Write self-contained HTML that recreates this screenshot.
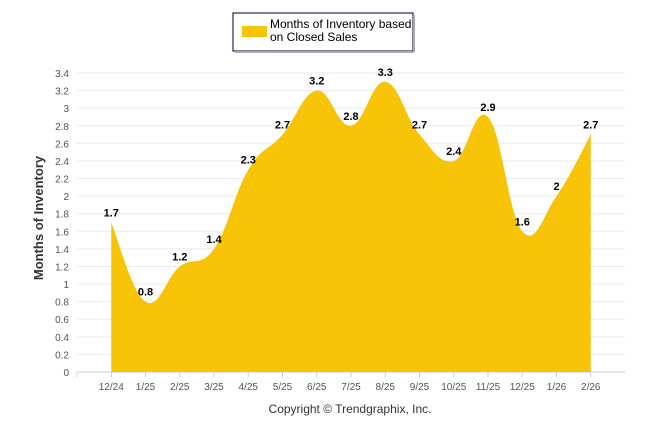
<!DOCTYPE html>
<html><head><meta charset="utf-8"><style>
body{margin:0;background:#fff;font-family:"Liberation Sans",sans-serif}
</style></head><body>
<svg width="646" height="434" id="c" xmlns="http://www.w3.org/2000/svg">
<rect x="233" y="13" width="180" height="38" fill="#fff" stroke="#1f2d4d" stroke-width="1.2"/>
<line x1="235" y1="52" x2="414" y2="52" stroke="#aaa" stroke-width="2"/>
<line x1="414" y1="15" x2="414" y2="52" stroke="#aaa" stroke-width="2"/>
<rect x="242" y="26" width="25" height="11" fill="#F7C408"/>
<text x="270" y="28" font-size="12" fill="#000">Months of Inventory based</text>
<text x="270" y="41" font-size="12" fill="#000">on Closed Sales</text>
<g id="grid"></g>
<path id="area" fill="#F7C408"/>
<g id="labels"></g>
<text transform="translate(43,218) rotate(-90)" text-anchor="middle" font-size="13" font-weight="bold" fill="#333">Months of Inventory</text>
<text x="350" y="413" text-anchor="middle" font-size="12" fill="#333">Copyright © Trendgraphix, Inc.</text>
</svg>
<script>
const categories=["12/24","1/25","2/25","3/25","4/25","5/25","6/25","7/25","8/25","9/25","10/25","11/25","12/25","1/26","2/26"];
const values=[1.7,0.8,1.2,1.4,2.3,2.7,3.2,2.8,3.3,2.7,2.4,2.9,1.6,2,2.7];
const yTicks=[0,0.2,0.4,0.6,0.8,1,1.2,1.4,1.6,1.8,2,2.2,2.4,2.6,2.8,3,3.2,3.4];
const X0=77,X1=625,Y0=372,Y1=73,YMAX=3.4;
const step=(X1-X0)/(categories.length+1);
const xs=i=>X0+step*(i+1);
const ys=v=>Y0-(v/YMAX)*(Y0-Y1);
const ns="http://www.w3.org/2000/svg";
const g=document.getElementById('grid'),lb=document.getElementById('labels');
function mk(t,a,p){const e=document.createElementNS(ns,t);for(const k in a)e.setAttribute(k,a[k]);p.appendChild(e);return e;}
yTicks.forEach(t=>{
 const l=mk('line',{x1:X0,x2:X1,y1:ys(t),y2:ys(t),stroke:t===0?'#ccc':'#ebebeb','stroke-width':1},g);
 
 
 const tx=mk('text',{x:X0-8,y:ys(t)+4,'text-anchor':'end','font-size':10,fill:'#555'},g);
 tx.textContent=t;
 
 
});
mk('line',{x1:X0,x2:X0,y1:Y0,y2:Y0+5,stroke:'#ccc'},g);
categories.forEach((c,i)=>{
 mk('line',{x1:xs(i),x2:xs(i),y1:Y0,y2:Y0+5,stroke:'#ccc'},g);
 const tx=mk('text',{x:xs(i),y:Y0+18,'text-anchor':'middle','font-size':10,fill:'#555'},g);
 tx.textContent=c;
 
 
});
const P=values.map((v,i)=>[xs(i),ys(v)]);
let d=`M${P[0][0]},${Y0} L${P[0][0]},${P[0][1]}`;
for(let i=0;i<P.length-1;i++){
 const p0=P[Math.max(0,i-1)],p1=P[i],p2=P[i+1],p3=P[Math.min(P.length-1,i+2)];
 const t=0.2;
 let c1=[p1[0]+(p2[0]-p0[0])*t,p1[1]+(p2[1]-p0[1])*t];
 let c2=[p2[0]-(p3[0]-p1[0])*t,p2[1]-(p3[1]-p1[1])*t];
 d+=` C${c1[0]},${c1[1]} ${c2[0]},${c2[1]} ${p2[0]},${p2[1]}`;
}
d+=` L${P[P.length-1][0]},${Y0} Z`;
document.getElementById('area').setAttribute('d',d);
values.forEach((v,i)=>{
 const tx=mk('text',{x:xs(i),y:ys(v)-6,'text-anchor':'middle','font-size':11,'font-weight':'bold',fill:'#000'},lb);
 tx.textContent=v;
 
 
});
</script>
</body></html>
